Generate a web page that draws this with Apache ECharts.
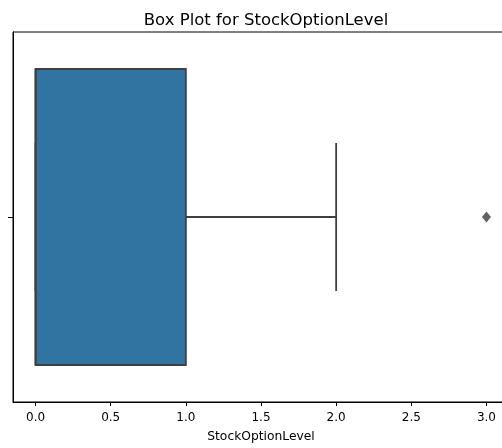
<!DOCTYPE html>
<html>
<head>
<meta charset="utf-8">
<script src="https://cdn.jsdelivr.net/npm/echarts@6/dist/echarts.min.js"></script>
<style>
  html, body { margin: 0; padding: 0; background: #fff; }
  #chart { width: 502px; height: 448px; }
</style>
</head>
<body>
<div id="chart"></div>
<script>
// Five-number summary of StockOptionLevel: min, Q1, median, Q3, upper whisker
const boxStats = [0, 0, 0, 1, 2];
// Points beyond the whiskers
const outliers = [3];
// Tick positions on the value axis
const xTicks = [0, 0.5, 1, 1.5, 2, 2.5, 3];
const categories = [''];

const FONT = 'DejaVu Sans';
const EDGE = '#3f3f3f';
const FILL = '#3274a1';

const chart = echarts.init(document.getElementById('chart'), null, { renderer: 'canvas' });

// Draws one horizontal box: whiskers, caps, IQR box and median line
function renderBox(params, api) {
  const cat = api.value(5);
  const band = api.size([0, 1])[1];
  const halfBox = band * 0.4;
  const halfCap = halfBox / 2;
  const pMin = api.coord([api.value(0), cat]);
  const pQ1 = api.coord([api.value(1), cat]);
  const pMed = api.coord([api.value(2), cat]);
  const pQ3 = api.coord([api.value(3), cat]);
  const pMax = api.coord([api.value(4), cat]);
  const cy = pQ1[1];
  const lineStyle = { stroke: EDGE, lineWidth: 1.8 };
  const line = (x1, y1, x2, y2) => ({
    type: 'line',
    shape: { x1, y1, x2, y2 },
    style: lineStyle
  });
  return {
    type: 'group',
    children: [
      line(pMin[0], cy, pQ1[0], cy),
      line(pQ3[0], cy, pMax[0], cy),
      line(pMin[0], cy - halfCap, pMin[0], cy + halfCap),
      line(pMax[0], cy - halfCap, pMax[0], cy + halfCap),
      {
        type: 'rect',
        shape: { x: pQ1[0], y: cy - halfBox, width: pQ3[0] - pQ1[0], height: halfBox * 2 },
        style: { fill: FILL, stroke: EDGE, lineWidth: 1.8 }
      },
      line(pMed[0], cy - halfBox, pMed[0], cy + halfBox)
    ]
  };
}

chart.setOption({
  animation: false,
  backgroundColor: '#fff',
  title: {
    text: 'Box Plot for StockOptionLevel',
    left: 261,
    textAlign: 'center',
    top: 7,
    textStyle: { fontFamily: FONT, fontSize: 16.5, fontWeight: 'normal', color: '#000' }
  },
  grid: {
    left: 13,
    top: 32,
    width: 496,
    height: 370,
    outerBoundsMode: 'none',
    show: true,
    borderColor: '#000',
    borderWidth: 1,
    backgroundColor: 'transparent'
  },
  xAxis: {
    type: 'value',
    min: -0.15,
    max: 3.15,
    name: 'StockOptionLevel',
    nameLocation: 'middle',
    nameGap: 29,
    nameTextStyle: { fontFamily: FONT, fontSize: 12.3, color: '#000' },
    axisLine: { show: true, onZero: false, lineStyle: { color: '#000', width: 1 } },
    axisTick: { show: true, length: 4, customValues: xTicks, lineStyle: { color: '#000', width: 1 } },
    axisLabel: {
      customValues: xTicks,
      margin: 10,
      fontFamily: FONT,
      fontSize: 12,
      color: '#000',
      formatter: v => v.toFixed(1)
    },
    splitLine: { show: false }
  },
  yAxis: {
    type: 'category',
    data: categories,
    axisLine: { show: true, onZero: false, lineStyle: { color: '#000', width: 1 } },
    axisTick: { show: true, alignWithLabel: true, length: 5, lineStyle: { color: '#000', width: 1 } },
    axisLabel: { show: false },
    splitLine: { show: false }
  },
  series: [
    {
      type: 'custom',
      renderItem: renderBox,
      encode: { x: [0, 1, 2, 3, 4], y: 5 },
      data: [boxStats.concat([0])],
      z: 2
    },
    {
      type: 'scatter',
      symbol: 'diamond',
      symbolSize: [9, 11],
      itemStyle: { color: '#3a3a3a' },
      data: outliers.map(v => [v, 0]),
      z: 3
    }
  ]
});
</script>
</body>
</html>
